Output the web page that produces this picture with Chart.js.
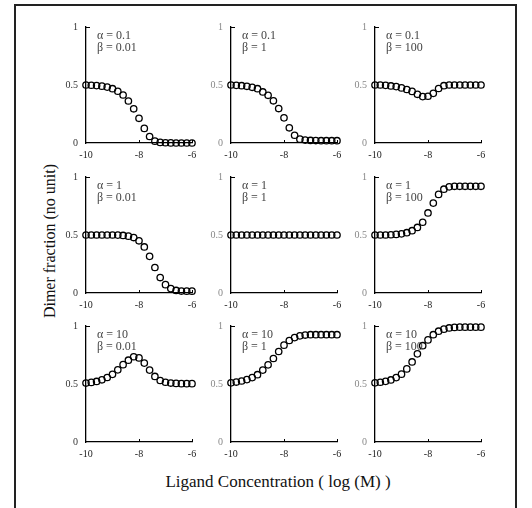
<!DOCTYPE html>
<html>
<head>
<meta charset="utf-8">
<script src="https://cdn.jsdelivr.net/npm/chart.js@4.4.1/dist/chart.umd.min.js"></script>
<style>
  html, body { margin: 0; padding: 0; background: #fff; }
  #wrap { position: relative; width: 532px; height: 508px; overflow: hidden; background: #fff; }
  #frame { position: absolute; left: 14px; top: 4px; width: 503px; height: 520px; border: 2px solid #222; box-sizing: border-box; }
  canvas { position: absolute; }
  .title { position: absolute; font-family: "Liberation Serif", "Times New Roman", serif; color: #111; white-space: nowrap; }
</style>
</head>
<body>
<div id="wrap">
  <div id="frame"></div>
  <div class="title" id="xt" style="left:278px; top:482px; font-size:17px; transform: translate(-50%, -50%);">Ligand Concentration ( log (M) )</div>
  <div class="title" id="yt" style="left:50px; top:241px; font-size:16px; transform: translate(-50%, -50%) rotate(-90deg);">Dimer fraction (no unit)</div>
</div>
<script>
// Ligand concentration, log(M)
const logConc = [-10, -9.8, -9.6, -9.4, -9.2, -9.0, -8.8, -8.6, -8.4, -8.2, -8.0, -7.8, -7.6, -7.4, -7.2, -7.0, -6.8, -6.6, -6.4, -6.2, -6.0];

const alphaLabels = ["0.1", "0.1", "0.1", "1", "1", "1", "10", "10", "10"];
const betaLabels  = ["0.01", "1", "100", "0.01", "1", "100", "0.01", "1", "100"];

const xTicks = [-10, -8, -6];
const yTicks = [0, 0.5, 1];

// Dimer fraction per panel (row-major: alpha rows, beta columns)
const a01_b001 = [0.5, 0.498, 0.495, 0.49, 0.482, 0.468, 0.446, 0.414, 0.362, 0.295, 0.213, 0.126, 0.056, 0.016, 0.005, 0.002, 0.001, 0, 0, 0, 0];
const a01_b1   = [0.5, 0.497, 0.494, 0.489, 0.48, 0.468, 0.44, 0.411, 0.364, 0.297, 0.217, 0.131, 0.067, 0.033, 0.025, 0.022, 0.021, 0.02, 0.02, 0.02, 0.02];
const a01_b100 = [0.5, 0.5, 0.497, 0.492, 0.486, 0.475, 0.461, 0.445, 0.42, 0.40, 0.403, 0.428, 0.47, 0.494, 0.5, 0.5, 0.5, 0.5, 0.5, 0.5, 0.5];
const a1_b001  = [0.5, 0.5, 0.5, 0.5, 0.5, 0.5, 0.499, 0.496, 0.49, 0.478, 0.45, 0.397, 0.316, 0.22, 0.133, 0.072, 0.038, 0.022, 0.017, 0.016, 0.016];
const a1_b1    = [0.5, 0.5, 0.5, 0.5, 0.5, 0.5, 0.5, 0.5, 0.5, 0.5, 0.5, 0.5, 0.5, 0.5, 0.5, 0.5, 0.5, 0.5, 0.5, 0.5, 0.5];
const a1_b100  = [0.5, 0.5, 0.5, 0.502, 0.505, 0.51, 0.52, 0.537, 0.565, 0.61, 0.69, 0.775, 0.85, 0.895, 0.915, 0.92, 0.92, 0.92, 0.92, 0.92, 0.92];
const a10_b001 = [0.508, 0.514, 0.522, 0.536, 0.556, 0.583, 0.622, 0.667, 0.705, 0.735, 0.725, 0.68, 0.62, 0.565, 0.53, 0.515, 0.508, 0.505, 0.503, 0.503, 0.503];
const a10_b1   = [0.51, 0.517, 0.526, 0.538, 0.555, 0.58, 0.62, 0.665, 0.72, 0.78, 0.835, 0.875, 0.9, 0.915, 0.922, 0.925, 0.925, 0.925, 0.925, 0.925, 0.925];
const a10_b100 = [0.51, 0.515, 0.523, 0.535, 0.555, 0.585, 0.63, 0.69, 0.76, 0.83, 0.88, 0.925, 0.955, 0.973, 0.983, 0.988, 0.99, 0.99, 0.99, 0.99, 0.99];

const panelData = [a01_b001, a01_b1, a01_b100, a1_b001, a1_b1, a1_b100, a10_b001, a10_b1, a10_b100];

// layout (pixel geometry of each panel's plot area)
const colX = [86, 231, 375];
const rowTop = [25, 175, 324];
const plotW = 106, plotH = 118;
const padL = 45, padT = 12, padR = 14, padB = 22;

const serif = '"Liberation Serif", "Times New Roman", serif';

const annotPlugin = {
  id: 'annot',
  afterDraw(chart, args, opts) {
    const { ctx, chartArea, scales } = chart;
    ctx.save();
    // small inward tick marks
    ctx.strokeStyle = '#000';
    ctx.lineWidth = 1;
    ctx.beginPath();
    for (const v of xTicks.slice(1)) {
      const px = Math.round(scales.x.getPixelForValue(v)) + 0.5;
      ctx.moveTo(px, chartArea.bottom);
      ctx.lineTo(px, chartArea.bottom - 3);
    }
    const py = Math.round(scales.y.getPixelForValue(1)) + 0.5;
    ctx.moveTo(chartArea.left, py);
    ctx.lineTo(chartArea.left + 4, py);
    ctx.stroke();
    // parameter labels
    ctx.fillStyle = '#444';
    ctx.font = '12px ' + serif;
    ctx.textBaseline = 'middle';
    ctx.textAlign = 'left';
    ctx.fillText('\u03b1 = ' + opts.a, chartArea.left + 11, chartArea.top + 9);
    ctx.fillText('\u03b2 = ' + opts.b, chartArea.left + 11, chartArea.top + 21);
    ctx.restore();
  }
};

const wrap = document.getElementById('wrap');

for (let i = 0; i < 9; i++) {
  const r = Math.floor(i / 3), c = i % 3;
  const cv = document.createElement('canvas');
  const W = padL + plotW + padR, H = padT + plotH + padB;
  cv.width = W; cv.height = H;
  cv.style.width = W + 'px'; cv.style.height = H + 'px';
  cv.style.left = (colX[c] - padL) + 'px';
  cv.style.top = (rowTop[r] - padT) + 'px';
  wrap.appendChild(cv);

  const yLabelColor = c === 0 ? '#333' : '#888';

  new Chart(cv, {
    type: 'scatter',
    data: {
      datasets: [{
        data: logConc.map((x, k) => ({ x: x, y: panelData[i][k] })),
        pointStyle: 'circle',
        pointRadius: 3.2,
        pointBorderWidth: 1.3,
        pointBorderColor: '#000',
        pointBackgroundColor: 'rgba(255,255,255,0)',
        showLine: false,
        clip: false
      }]
    },
    options: {
      responsive: false,
      animation: false,
      devicePixelRatio: 1,
      layout: { padding: { left: 0, top: padT, right: padR, bottom: 0 } },
      plugins: {
        legend: { display: false },
        tooltip: { enabled: false },
        annot: { a: alphaLabels[i], b: betaLabels[i] }
      },
      scales: {
        x: {
          type: 'linear',
          min: -10, max: -6,
          afterBuildTicks(s) { s.ticks = xTicks.map(v => ({ value: v })); },
          afterFit(s) { s.height = padB; },
          grid: { display: true, drawOnChartArea: false, drawTicks: false },
          border: { display: true, color: '#000', width: 1.3 },
          ticks: { padding: 6, color: '#222', font: { family: serif, size: 10 }, maxRotation: 0, autoSkip: false }
        },
        y: {
          type: 'linear',
          min: 0, max: 1,
          afterBuildTicks(s) { s.ticks = yTicks.map(v => ({ value: v })); },
          afterFit(s) { s.width = padL; },
          grid: { display: true, drawOnChartArea: false, drawTicks: false },
          border: { display: true, color: '#000', width: 1.3 },
          ticks: { padding: 8, color: yLabelColor, font: { family: serif, size: 10 }, callback: v => String(v) }
        }
      }
    },
    plugins: [annotPlugin]
  });
}
</script>
</body>
</html>
